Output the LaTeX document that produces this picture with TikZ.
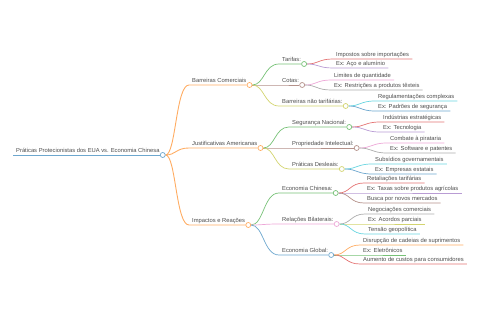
\documentclass[tikz,border=0pt]{standalone}
\usepackage{fontspec}
\setmainfont{Liberation Sans}
\usetikzlibrary{calc,backgrounds}

\definecolor{mmblue}{HTML}{1F77B4}
\definecolor{mmorange}{HTML}{FF7F0E}
\definecolor{mmgreen}{HTML}{2CA02C}
\definecolor{mmred}{HTML}{D62728}
\definecolor{mmpurple}{HTML}{9467BD}
\definecolor{mmbrown}{HTML}{8C564B}
\definecolor{mmpink}{HTML}{E377C2}
\definecolor{mmgrey}{HTML}{7F7F7F}
\definecolor{mmolive}{HTML}{BCBD22}
\definecolor{mmcyan}{HTML}{17BECF}

\tikzset{
  topic/.style={anchor=south west, inner xsep=3pt, inner ysep=2pt, text depth=0pt,
    font=\fontsize{5.8}{7}\selectfont, text=black!70},
  dot/.style={circle, draw=#1!65!white, fill=white, inner sep=0pt, minimum size=5pt, line width=0.7pt},
  link/.style={draw=#1!65!white, line width=0.7pt,
    to path={let \p1=(\tikztostart), \p2=(\tikztotarget) in
      .. controls ({(\x1+\x2)/2},\y1) and ({(\x1+\x2)/2},\y2) .. (\tikztotarget)}},
}

\begin{document}
\begin{tikzpicture}[x=1pt, y=-1pt]
    \useasboundingbox (0,0) rectangle (480,320);

    % raiz
    \node[topic] (root) at (13,155) {Práticas Protecionistas dos EUA vs. Economia Chinesa};
    \node[dot=mmblue] (root-d) at (root.south east) {};

    % nivel 1
    \node[topic] (bc) at (189,85) {Barreiras Comerciais};
    \node[topic] (ja) at (189,148) {Justificativas Americanas};
    \node[topic] (ir) at (189,225) {Impactos e Reações};
    \foreach \nd in {bc,ja,ir} \node[dot=mmorange] (\nd-d) at (\nd.south east) {};

    % nivel 2
    \node[topic] (tar) at (279,64) {Tarifas:};
    \node[topic] (cot) at (279,85) {Cotas:};
    \node[topic] (bnt) at (279,106) {Barreiras não tarifárias:};
    \node[topic] (sn) at (289,127) {Segurança Nacional:};
    \node[topic] (pi) at (289,148) {Propriedade Intelectual:};
    \node[topic] (pd) at (289,169) {Práticas Desleais:};
    \node[topic] (ec) at (279,193) {Economia Chinesa:};
    \node[topic] (rb) at (279,224) {Relações Bilaterais:};
    \node[topic] (eg) at (279,255) {Economia Global:};
    \foreach \nd/\c in {tar/mmgreen,cot/mmbrown,bnt/mmolive,sn/mmgreen,pi/mmbrown,pd/mmolive,ec/mmgreen,rb/mmpink,eg/mmblue}
        \node[dot=\c] (\nd-d) at (\nd.south east) {};

    \begin{scope}[on background layer]
        \draw[mmblue!65!white, line width=0.9pt] (root.south west) -- (root-d);
        \foreach \nd in {bc,ja,ir}
            \draw[link=mmorange, line width=0.9pt] (root-d) to (\nd.south west) -- (\nd-d);
        \foreach \up/\nd/\c in {bc/tar/mmgreen,bc/cot/mmbrown,bc/bnt/mmolive,
                                ja/sn/mmgreen,ja/pi/mmbrown,ja/pd/mmolive,
                                ir/ec/mmgreen,ir/rb/mmpink,ir/eg/mmblue}
            \draw[link=\c] (\up-d) to (\nd.south west) -- (\nd-d);
    \end{scope}

    % folhas
    \foreach \up/\nd/\xx/\yy/\c/\t in {
        tar/l1/333/59/mmred/Impostos sobre importações,
        tar/l2/333/68/mmpurple/Ex: Aço e alumínio,
        cot/l3/331/80/mmpink/Limites de quantidade,
        cot/l4/331/90/mmgrey/Ex: Restrições a produtos têxteis,
        bnt/l5/375/101/mmcyan/Regulamentações complexas,
        bnt/l6/375/111/mmblue/Ex: Padrões de segurança,
        sn/l7/380/122/mmred/Indústrias estratégicas,
        sn/l8/380/132/mmpurple/Ex: Tecnologia,
        pi/l9/387/143/mmpink/Combate à pirataria,
        pi/l10/387/153/mmgrey/Ex: Software e patentes,
        pd/l11/372/164/mmcyan/Subsídios governamentais,
        pd/l12/372/174/mmblue/Ex: Empresas estatais,
        ec/l13/364/183/mmred/Retaliações tarifárias,
        ec/l14/364/193/mmpurple/Ex: Taxas sobre produtos agrícolas,
        ec/l15/364/203/mmbrown/Busca por novos mercados,
        rb/l16/365/214/mmgrey/Negociações comerciais,
        rb/l17/365/224/mmolive/Ex: Acordos parciais,
        rb/l18/365/234/mmcyan/Tensão geopolítica,
        eg/l19/360/245/mmorange/Disrupção de cadeias de suprimentos,
        eg/l20/360/255/mmgreen/Ex: Eletrônicos,
        eg/l21/360/264/mmred/Aumento de custos para consumidores} {
        \node[topic] (\nd) at (\xx,\yy) {\t};
        \begin{scope}[on background layer]
            \draw[link=\c] (\up-d) to (\nd.south west) -- (\nd.south east);
        \end{scope}
    }
\end{tikzpicture}
\end{document}
